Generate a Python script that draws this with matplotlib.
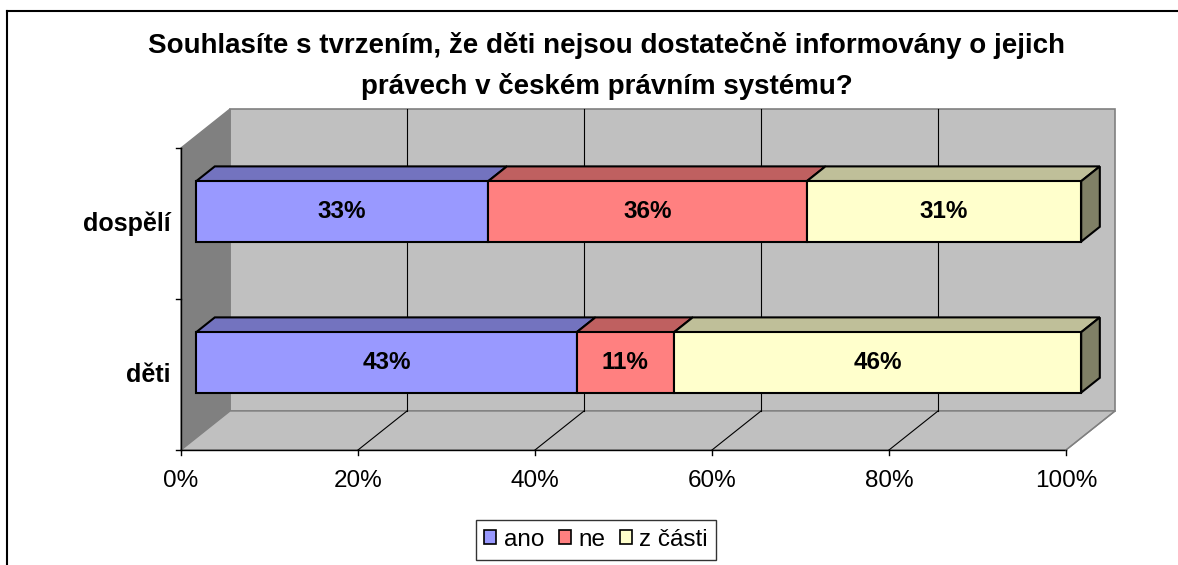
import matplotlib
matplotlib.use("Agg")
import matplotlib.pyplot as plt
from matplotlib.patches import Polygon, Rectangle
from matplotlib.lines import Line2D

plt.rcParams["font.family"] = ["Liberation Sans", "DejaVu Sans"]

TITLE = "Souhlasíte s tvrzením, že děti nejsou dostatečně informovány o jejich\nprávech v českém právním systému?"
categories = ["děti", "dospělí"]          # bottom to top
series = ["ano", "ne", "z části"]
values = {
    "ano": [43, 33],
    "ne": [11, 36],
    "z části": [46, 31],
}
x_ticks = [0, 20, 40, 60, 80, 100]
x_tick_labels = ["0%", "20%", "40%", "60%", "80%", "100%"]

face_colors = {"ano": "#9999FF", "ne": "#FF8080", "z části": "#FFFFCC"}
top_colors = {"ano": "#7373BF", "ne": "#BF6060", "z části": "#BFBF99"}
side_colors = {"ano": "#6666AA", "ne": "#AA5555", "z části": "#808066"}

W, H = 1178, 565
fig = plt.figure(figsize=(W / 100, H / 100), dpi=100)

# outer chart frame (only top and left edges fall inside the picture)
fig.add_artist(Line2D([7 / W, 7 / W], [0, 1 - 11 / H], color="black", lw=1.5))
fig.add_artist(Line2D([7 / W, 1], [1 - 11 / H, 1 - 11 / H], color="black", lw=1.5))

# axes = front plane of the 3D box
left, right, top, bottom = 181, 1066, 148, 450
ax = fig.add_axes([left / W, 1 - bottom / H, (right - left) / W, (bottom - top) / H])
ax.set_xlim(0, 100)
ax.set_ylim(0, len(categories))
ax.axis("off")

# depth offset of the back wall, in data units
DX = 49 / (right - left) * 100
DY = 39 / (bottom - top) * len(categories)
ncat = len(categories)


def poly(pts, fc, ec="none", lw=1.0, z=1):
    ax.add_patch(Polygon(pts, closed=True, facecolor=fc, edgecolor=ec, lw=lw,
                         zorder=z, clip_on=False, joinstyle="miter"))


# walls and floor
poly([(DX, DY), (100 + DX, DY), (100 + DX, ncat + DY), (DX, ncat + DY)], "#C0C0C0", "#808080", 1.2, 1)
poly([(0, 0), (DX, DY), (DX, ncat + DY), (0, ncat)], "#808080", "#808080", 1.0, 1)
poly([(0, 0), (100, 0), (100 + DX, DY), (DX, DY)], "#C0C0C0", "#808080", 1.0, 1)

# gridlines on back wall and floor
for t in x_ticks[1:-1]:
    ax.plot([t + DX, t + DX], [DY, ncat + DY], color="black", lw=0.8, zorder=2, clip_on=False)
    ax.plot([t, t + DX], [0, DY], color="black", lw=0.8, zorder=2, clip_on=False)
ax.plot([0, 0], [0, ncat], color="black", lw=1.0, zorder=2, clip_on=False)
ax.plot([0, 100], [0, 0], color="black", lw=1.0, zorder=2, clip_on=False)
ax.plot([100, 100 + DX], [0, DY], color="#808080", lw=1.0, zorder=2, clip_on=False)

# axis ticks and labels
for t, lab in zip(x_ticks, x_tick_labels):
    ax.plot([t, t], [0, -0.03], color="black", lw=1.0, clip_on=False, zorder=2)
    ax.text(t, -0.13, lab, ha="center", va="top", fontsize=17.5)
for yb in range(ncat + 1):
    ax.plot([-0.6, 0], [yb, yb], color="black", lw=1.0, clip_on=False, zorder=2)
for i, cat in enumerate(categories):
    ax.text(-1.2, i + 0.5, cat, ha="right", va="center", fontsize=18, fontweight="bold")

# 3D stacked bars
f0, f1 = 0.31, 0.69           # depth range of bars
bar_h = 0.4
for i, cat in enumerate(categories):
    x0 = 0.0
    yc = i + 0.5 + f0 * DY
    y0, y1 = yc - bar_h / 2, yc + bar_h / 2
    ox, oy = f0 * DX, f0 * DY
    bx, by = (f1 - f0) * DX, (f1 - f0) * DY
    for s in series:
        v = values[s][i]
        a, b = x0 + ox, x0 + v + ox
        poly([(a, y1), (b, y1), (b + bx, y1 + by), (a + bx, y1 + by)], top_colors[s], "black", 1.5, 3)
        poly([(a, y0), (b, y0), (b, y1), (a, y1)], face_colors[s], "black", 1.5, 4)
        ax.text((a + b) / 2, (y0 + y1) / 2, f"{v}%", ha="center", va="center",
                fontsize=17.5, fontweight="bold", zorder=6)
        x0 += v
    last = series[-1]
    b = x0 + ox
    poly([(b, y0), (b + bx, y0 + by), (b + bx, y1 + by), (b, y1)], side_colors[last], "black", 1.5, 3)

fig.text(607 / W, 1 - 66 / H, TITLE, ha="center", va="center", fontsize=20,
         fontweight="bold", linespacing=1.65)

# legend
handles = [Rectangle((0, 0), 1, 1, facecolor=face_colors[s], edgecolor="black", lw=1.2) for s in series]
leg = fig.legend(handles, series, loc="center", bbox_to_anchor=(596 / W, 1 - 540 / H), ncol=3,
                 frameon=True, fontsize=17.5, handlelength=0.5, handleheight=0.5,
                 handletextpad=0.3, columnspacing=0.6, borderpad=0.35, fancybox=False)
leg.get_frame().set_edgecolor("black")
leg.get_frame().set_linewidth(1.0)

fig.savefig("out.png", dpi=100)
